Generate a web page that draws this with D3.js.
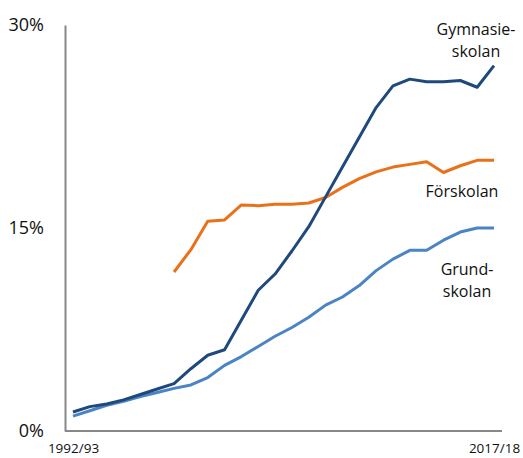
<!DOCTYPE html>
<html>
<head>
<meta charset="utf-8">
<script src="https://cdn.jsdelivr.net/npm/d3@7"></script>
<style>
	body { margin: 0; background: #fff; }
	text { font-family: "Open Sans", sans-serif; fill: #111; }
</style>
</head>
<body>
<svg id="chart" width="523" height="458"></svg>
<script>
var years = [];
for (var yr = 1992; yr <= 2017; yr++) years.push(yr + "/" + String(yr + 1).slice(2));

var gymnasie = [1.4, 1.8, 2.0, 2.3, 2.7, 3.1, 3.5, 4.6, 5.6, 6.0, 8.2, 10.4, 11.6, 13.3, 15.1,
	17.3, 19.5, 21.7, 23.9, 25.5, 26.0, 25.8, 25.8, 25.9, 25.4, 27.0];
var forskola = [null, null, null, null, null, null, 11.75, 13.4, 15.5, 15.6, 16.7, 16.65, 16.75,
	16.75, 16.85, 17.25, 18.0, 18.65, 19.15, 19.5, 19.7, 19.9, 19.1, 19.6, 20.0, 20.0];
var grundskola = [1.1, 1.5, 1.9, 2.2, 2.55, 2.85, 3.15, 3.4, 3.95, 4.85, 5.5, 6.25, 7.0, 7.65,
	8.4, 9.3, 9.9, 10.75, 11.85, 12.7, 13.35, 13.35, 14.1, 14.7, 15.0, 15.0];
var yTicks = [0, 15, 30];

var svg = d3.select("#chart");

var x = d3.scalePoint()
	.domain(years)
	.range([73, 494]);

var y = d3.scaleLinear()
	.domain([0, 30])
	.range([431, 25]);

// y axis
var yAxis = svg.append("g")
	.attr("transform", "translate(65,0)")
	.call(d3.axisLeft(y).tickValues(yTicks).tickFormat(function(d) { return d + "%"; })
		.tickSize(0).tickSizeOuter(0).tickPadding(21));
yAxis.select(".domain").attr("stroke", "#888").attr("stroke-width", 2);
yAxis.selectAll("text").style("font-size", "18px").attr("fill", "#111");

// x axis
svg.append("line")
	.attr("x1", 65).attr("x2", 502)
	.attr("y1", y(0)).attr("y2", y(0))
	.attr("stroke", "#888").attr("stroke-width", 2);
var xAxis = svg.append("g")
	.attr("transform", "translate(0," + y(0) + ")")
	.call(d3.axisBottom(x).tickValues([years[0], years[years.length - 1]])
		.tickSize(0).tickPadding(12));
xAxis.select(".domain").remove();
xAxis.selectAll("text").style("font-size", "13.5px").attr("fill", "#111");

var line = d3.line()
	.defined(function(d) { return d != null; })
	.x(function(d, i) { return x(years[i]); })
	.y(function(d) { return y(d); });

var series = [
	{ name: "grund", values: grundskola, color: "#4a84c4" },
	{ name: "forskola", values: forskola, color: "#e8711a" },
	{ name: "gymnasie", values: gymnasie, color: "#1f497d" }
];

svg.selectAll("path.serie")
	.data(series)
	.enter().append("path")
		.attr("class", "serie")
		.attr("fill", "none")
		.attr("stroke", function(d) { return d.color; })
		.attr("stroke-width", 3)
		.attr("stroke-linejoin", "round")
		.attr("d", function(d) { return line(d.values); });

// labels
var labels = [
	{ lines: ["Gymnasie-", "skolan"], x: 476, y: 35 },
	{ lines: ["Förskolan"], x: 462, y: 197 },
	{ lines: ["Grund-", "skolan"], x: 467, y: 275 }
];
labels.forEach(function(l) {
	var t = svg.append("text")
		.attr("text-anchor", "middle")
		.style("font-size", "16px");
	l.lines.forEach(function(s, i) {
		t.append("tspan")
			.attr("x", l.x)
			.attr("y", l.y + i * 22)
			.text(s);
	});
});
</script>
</body>
</html>
